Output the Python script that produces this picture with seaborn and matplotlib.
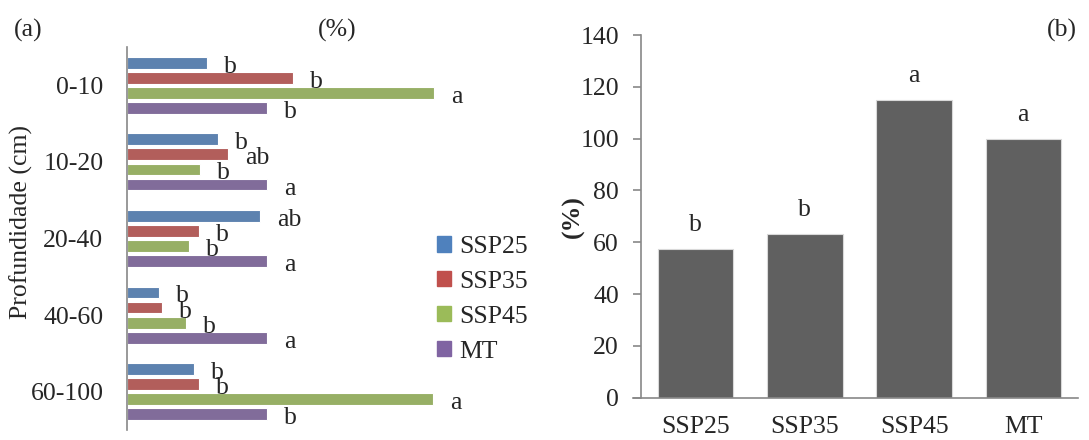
import matplotlib
matplotlib.use("Agg")
import matplotlib.pyplot as plt
import matplotlib.patches as mpatches
import seaborn as sns
import pandas as pd

# ---- data ----
depths = ["0-10", "10-20", "20-40", "40-60", "60-100"]
series = ["SSP25", "SSP35", "SSP45", "MT"]
ssp25 = [57, 65, 95, 23, 48]
ssp35 = [118, 72, 51, 25, 51]
ssp45 = [219, 52, 44, 42, 218]
mt = [100, 100, 100, 100, 100]
letters_a = {
    "SSP25": ["b", "b", "ab", "b", "b"],
    "SSP35": ["b", "ab", "b", "b", "b"],
    "SSP45": ["a", "b", "b", "b", "a"],
    "MT": ["b", "a", "a", "a", "b"],
}
totals = [57.5, 63.3, 115, 100]
letters_b = ["b", "b", "a", "a"]

colors = ["#4F81BD", "#C0504D", "#9BBB59", "#8064A2"]

sns.set_style("white")
plt.rcParams["font.family"] = ["Liberation Serif", "DejaVu Serif"]
FS = 18.5

W, H = 1089, 440
fig = plt.figure(figsize=(W / 100, H / 100), dpi=100)

def px_ax(x0, y0, x1, y1):
    return fig.add_axes([x0 / W, 1 - y1 / H, (x1 - x0) / W, (y1 - y0) / H])

# ---- panel (a) ----
rows = []
for s, vals in zip(series, [ssp25, ssp35, ssp45, mt]):
    for d, v in zip(depths, vals):
        rows.append({"depth": d, "series": s, "value": v})
df_a = pd.DataFrame(rows)

axL = px_ax(127, 47, 480, 430)
sns.barplot(data=df_a, y="depth", x="value", hue="series", order=depths,
            hue_order=series, palette=colors, orient="h", width=0.79, gap=0.22,
            edgecolor="white", linewidth=0.8, ax=axL, legend=False)
axL.set_xlim(0, (480 - 127) / 1.403)
for cont, s in zip(axL.containers, series):
    for p, lab in zip(cont.patches, letters_a[s]):
        axL.annotate(lab, (p.get_width(), p.get_y() + p.get_height() / 2),
                     xytext=(12.2, -7.2), textcoords="offset points",
                     ha="left", va="baseline", fontsize=FS)
for sp in ["top", "right", "bottom"]:
    axL.spines[sp].set_visible(False)
axL.spines["left"].set_color("#888888")
axL.spines["left"].set_linewidth(1.2)
axL.set_xticks([])
axL.set_xlabel("")
axL.tick_params(axis="y", length=0, pad=17, labelsize=FS)
axL.set_ylabel("Profundidade (cm)", fontsize=FS)
axL.yaxis.set_label_coords(-0.266, 0.544)
handles = [mpatches.Patch(color=c, label=s) for c, s in zip(colors, series)]
axL.legend(handles=handles, loc="upper left", bbox_to_anchor=(437 / W, 1 - 236 / H),
           bbox_transform=fig.transFigure, frameon=False, fontsize=FS,
           handlelength=0.55, handleheight=0.55, handletextpad=0.3,
           labelspacing=0.5, borderpad=0, borderaxespad=0)

fig.text(337 / W, 1 - 30 / H, "(%)", ha="center", va="center", fontsize=FS)
fig.text(27.7 / W, 1 - 30 / H, "(a)", ha="center", va="center", fontsize=FS)
fig.text(1061.7 / W, 1 - 30 / H, "(b)", ha="center", va="center", fontsize=FS)

# ---- panel (b) ----
df_b = pd.DataFrame({"trat": series, "value": totals})
axR = px_ax(641, 35, 1078, 397.7)
sns.barplot(data=df_b, x="trat", y="value", order=series, color="#606060",
            saturation=1, width=0.69, edgecolor="#d9d9d9", linewidth=0.8, ax=axR)
axR.set_ylim(0, 140)
axR.set_xlim(-0.5, 3.5)
axR.set_yticks(range(0, 141, 20))
for p, lab in zip(axR.patches, letters_b):
    axR.annotate(lab, (p.get_x() + p.get_width() / 2, p.get_height()),
                 xytext=(0, 12.5), textcoords="offset points",
                 ha="center", va="baseline", fontsize=FS)
for sp in ["top", "right"]:
    axR.spines[sp].set_visible(False)
for sp in ["left", "bottom"]:
    axR.spines[sp].set_color("#888888")
    axR.spines[sp].set_linewidth(1.2)
axR.spines["bottom"].set_bounds(-0.5 - 8 / 109.25, 3.5)
axR.tick_params(axis="y", length=5.8, width=1.2, color="#888888", pad=10,
                labelsize=FS, left=True, direction="out")
axR.tick_params(axis="x", length=0, pad=13, labelsize=FS)
axR.set_xlabel("")
axR.set_ylabel("(%)", fontsize=FS, fontweight="bold")
axR.yaxis.set_label_coords(-0.128, 0.5)

fig.savefig("out.png", dpi=100)
